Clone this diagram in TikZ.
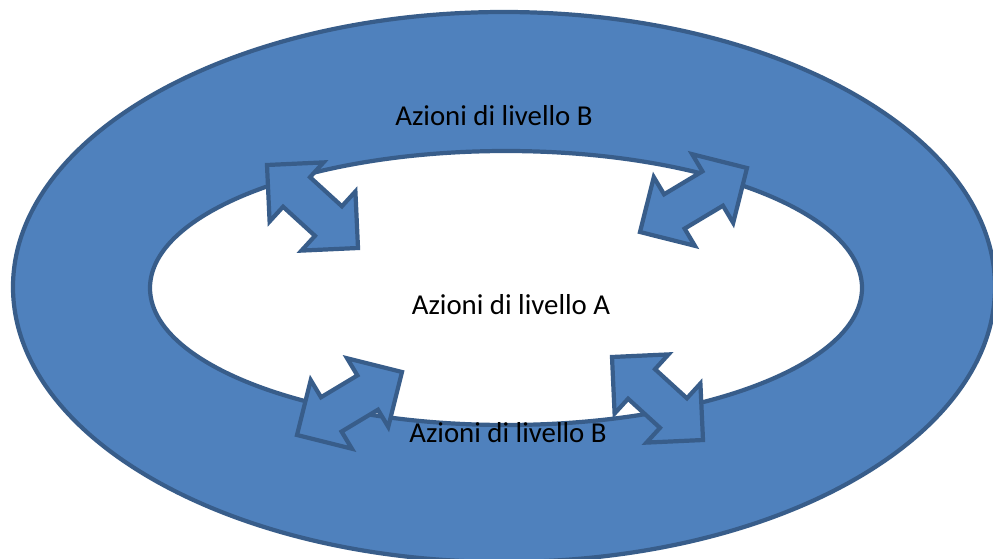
\documentclass[tikz,border=0pt]{standalone}
\usepackage{fontspec}
\setmainfont{Carlito}
\usepackage{tikz}
\usetikzlibrary{calc}

\definecolor{ringblue}{HTML}{4F81BD}
\definecolor{ringline}{HTML}{385D8A}

\tikzset{
  ring/.style={draw=ringline, line width=2.4pt, fill=ringblue},
  hole/.style={draw=ringline, line width=2.4pt, fill=white},
  bigarrow/.style={draw=ringline, line width=2.4pt, fill=ringblue, line join=miter},
  label/.style={font=\fontsize{16.4}{19}\selectfont, anchor=base, inner sep=0pt}
}

% block arrow with a head at each end, from #1 to #2
\newcommand{\blockarrow}[2]{%
  \coordinate (ba1) at ($(#1)!0.8cm!(#2)$);
  \coordinate (ba2) at ($(#2)!0.8cm!(#1)$);
  \draw[bigarrow] (#1) -- ($(ba1)!0.8cm!90:(#2)$) -- ($(ba1)!0.4cm!90:(#2)$)
    -- ($(ba2)!0.4cm!-90:(#1)$) -- ($(ba2)!0.8cm!-90:(#1)$) -- (#2)
    -- ($(ba2)!0.8cm!90:(#1)$) -- ($(ba2)!0.4cm!90:(#1)$)
    -- ($(ba1)!0.4cm!-90:(#2)$) -- ($(ba1)!0.8cm!-90:(#2)$) -- cycle;
}

\begin{document}
\begin{tikzpicture}
            \useasboundingbox (0, 0) rectangle (19.86, 11.16);
            \draw[ring] (10.08, 5.42) ellipse [x radius=9.82cm, y radius=5.5cm];
            \draw[hole] (10.12, 5.40) ellipse [x radius=7.12cm, y radius=2.74cm];

            \node[label] (levB1) at (9.88, 8.66) {Azioni di livello B};
            \node[label] (levA) at (10.22, 4.88) {Azioni di livello A};
            \node[label] (levB2) at (10.16, 2.32) {Azioni di livello B};

            \coordinate (a1s) at (5.34, 7.86);
            \coordinate (a1e) at (7.16, 6.20);
            \coordinate (a2s) at (12.80, 6.52);
            \coordinate (a2e) at (14.94, 7.80);
            \coordinate (a3s) at (5.94, 2.46);
            \coordinate (a3e) at (8.04, 3.72);
            \coordinate (a4s) at (12.24, 4.02);
            \coordinate (a4e) at (14.06, 2.36);

            \blockarrow{a1s}{a1e}
            \blockarrow{a2s}{a2e}
            \blockarrow{a3s}{a3e}
            \blockarrow{a4s}{a4e}
        \end{tikzpicture}
\end{document}
